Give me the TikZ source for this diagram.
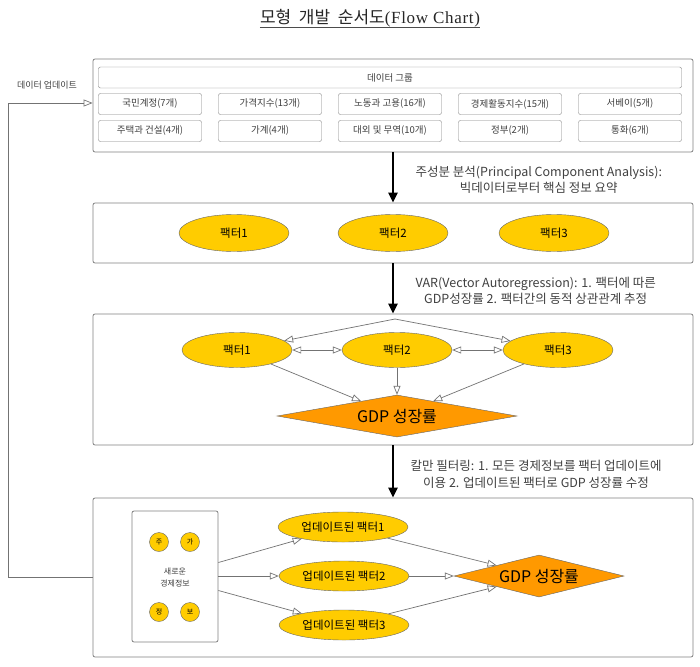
\documentclass[tikz,border=0pt]{standalone}
\usepackage{fontspec}
\setmainfont{Noto Sans CJK KR}
\newfontfamily\serifpart[LetterSpace=4]{Liberation Serif}
\usetikzlibrary{shapes.geometric, arrows.meta}
\definecolor{edgegray}{HTML}{808080}
\definecolor{factorfill}{HTML}{FFCC00}
\definecolor{gdpfill}{HTML}{FF9900}
\definecolor{textgray}{HTML}{404040}
\tikzset{
  panel/.style={draw=edgegray, rounded corners=2pt, fill=white, inner sep=0pt, line width=0.8pt},
  datacell/.style={draw=edgegray, rounded corners=2pt, minimum width=103pt, minimum height=21pt, inner sep=0pt, text=textgray, font=\fontsize{9.5}{10}\selectfont},
  factor/.style={ellipse, draw=black!60, fill=factorfill, inner sep=0pt, font=\fontsize{11.5}{12}\selectfont},
  gdpnode/.style={diamond, draw=black!60, fill=gdpfill, inner sep=0pt, font=\fontsize{16}{17}\selectfont},
  letter/.style={circle, draw=black!60, fill=factorfill, minimum size=19pt, inner sep=0pt, font=\fontsize{7}{8}\selectfont},
  steplabel/.style={align=center, text=textgray, font=\fontsize{12.5}{16.5}\selectfont},
  mainflow/.style={-{Triangle[length=10pt,width=9pt]}, line width=2.5pt, black},
  relation/.style={-{Triangle[open,length=9pt,width=7pt]}, draw=black!55, line width=0.7pt}
}

\begin{document}
\begin{tikzpicture}[x=1pt, y=-1pt]
\useasboundingbox (0,0) rectangle (700,666);
% title
\node[inner sep=0pt, font=\fontsize{17}{20}\selectfont, text=black!85] (title) at (370,18) {모형\hspace{0.45em}개발\hspace{0.45em}순서도{\serifpart(Flow Chart)}};
\draw[line width=1pt, black!70] ([yshift=-4.5pt]title.base west) -- ([yshift=-4.5pt]title.base east);

% data groups
\node[panel, minimum width=600pt, minimum height=93pt] (box1) at (393,105.5) {};
\node[datacell, minimum width=583pt] (grp) at (390,77.5) {데이터 그룹};
\node[datacell] (g1) at (150,104) {국민계정(7개)};
\node[datacell] (g2) at (270,104) {가격지수(13개)};
\node[datacell] (g3) at (390,104) {노동과 고용(16개)};
\node[datacell] (g4) at (510,104) {경제활동지수(15개)};
\node[datacell] (g5) at (630,104) {서베이(5개)};
\node[datacell] (g6) at (150,131) {주택과 건설(4개)};
\node[datacell] (g7) at (270,131) {가계(4개)};
\node[datacell] (g8) at (390,131) {대외 및 무역(10개)};
\node[datacell] (g9) at (510,131) {정부(2개)};
\node[datacell] (g10) at (630,131) {통화(6개)};

% factors
\node[panel, minimum width=600pt, minimum height=60pt] (box2) at (393,233) {};
\node[factor, minimum width=110pt, minimum height=37pt] (f1) at (234,233) {팩터1};
\node[factor, minimum width=110pt, minimum height=37pt] (f2) at (393,233) {팩터2};
\node[factor, minimum width=110pt, minimum height=37pt] (f3) at (554,233) {팩터3};

% VAR
\node[panel, minimum width=600pt, minimum height=131pt] (box3) at (393,379.5) {};
\coordinate (split) at (395,319);
\node[factor, minimum width=110pt, minimum height=35pt] (v1) at (237,350) {팩터1};
\node[factor, minimum width=110pt, minimum height=35pt] (v2) at (397,350) {팩터2};
\node[factor, minimum width=110pt, minimum height=35pt] (v3) at (558,350) {팩터3};
\node[gdpnode, aspect=5.7, minimum width=240pt, minimum height=42pt] (gdp) at (397,416) {GDP 성장률};
\draw[relation] (split) -- (v1);
\draw[relation] (split) -- (v3);
\draw[relation, {Triangle[open,length=9pt,width=7pt]}-{Triangle[open,length=9pt,width=7pt]}] (v1) -- (v2);
\draw[relation, {Triangle[open,length=9pt,width=7pt]}-{Triangle[open,length=9pt,width=7pt]}] (v2) -- (v3);
\draw[relation] (v1) -- (gdp);
\draw[relation] (v2) -- (gdp);
\draw[relation] (v3) -- (gdp);

% Kalman filter
\node[panel, minimum width=600pt, minimum height=159pt] (box4) at (393,577.5) {};
\node[panel, minimum width=86pt, minimum height=131pt] (news) at (175,576.5) {};
\node[text=textgray, align=center, font=\fontsize{8}{12}\selectfont] (newstext) at (175,577) {새로운\\경제정보};
\node[letter] (c1) at (159,542) {주};
\node[letter] (c2) at (190,542) {가};
\node[letter] (c3) at (159,612) {정};
\node[letter] (c4) at (190,612) {보};
\node[factor, minimum width=130pt, minimum height=30pt] (u1) at (343,527) {업데이트된 팩터1};
\node[factor, minimum width=130pt, minimum height=30pt] (u2) at (344,576) {업데이트된 팩터2};
\node[factor, minimum width=130pt, minimum height=30pt] (u3) at (344,625) {업데이트된 팩터3};
\node[gdpnode, aspect=4, minimum width=170pt, minimum height=42pt] (gdp2) at (539,576) {GDP 성장률};
\draw[relation] ([yshift=14pt]news.east) -- (u1);
\draw[relation] (news.east |- u2) -- (u2);
\draw[relation] ([yshift=-14pt]news.east) -- (u3);
\draw[relation] (u1) -- (gdp2);
\draw[relation] (u2) -- (gdp2);
\draw[relation] (u3) -- (gdp2);

% main flow
\draw[mainflow] (box1.south) -- (box2.north)
  node[steplabel, pos=0.55, right=18pt] (step1) {주성분 분석(Principal Component Analysis):\\빅데이터로부터 핵심 정보 요약};
\draw[mainflow] (box2.south) -- (box3.north)
  node[steplabel, pos=0.55, right=18pt] (step2) {VAR(Vector Autoregression): 1. 팩터에 따른\\GDP성장률 2. 팩터간의 동적 상관관계 추정};
\draw[mainflow] (box3.south) -- (box4.north)
  node[steplabel, pos=0.55, right=13pt] (step3) {칼만 필터링: 1. 모든 경제정보를 팩터 업데이트에\\이용 2. 업데이트된 팩터로 GDP 성장률 수정};

% update loop
\coordinate (back) at (8,577.5);
\node[text=textgray, font=\fontsize{9}{10}\selectfont] (backlabel) at (47,85) {데이터 업데이트};
\draw[relation] (box4.west) -- (back) |- ([yshift=2.5pt]box1.west);
\end{tikzpicture}
\end{document}
